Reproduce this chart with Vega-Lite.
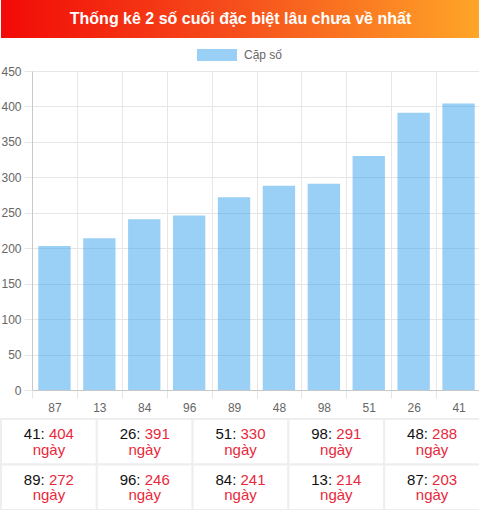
{
  "$schema": "https://vega.github.io/schema/vega-lite/v6.json",
  "padding": 0,
  "spacing": 5,
  "resolve": {"scale": {"color": "independent"}, "legend": {"color": "independent"}},
  "config": {
    "view": {"stroke": null},
    "font": "Liberation Sans"
  },
  "datasets": {
    "bars": [
      {"so": "87", "ngay": 203},
      {"so": "13", "ngay": 214},
      {"so": "84", "ngay": 241},
      {"so": "96", "ngay": 246},
      {"so": "89", "ngay": 272},
      {"so": "48", "ngay": 288},
      {"so": "98", "ngay": 291},
      {"so": "51", "ngay": 330},
      {"so": "26", "ngay": 391},
      {"so": "41", "ngay": 404}
    ],
    "table": [
      {"so": "41", "ngay": 404, "row": 1, "col": 1},
      {"so": "26", "ngay": 391, "row": 1, "col": 2},
      {"so": "51", "ngay": 330, "row": 1, "col": 3},
      {"so": "98", "ngay": 291, "row": 1, "col": 4},
      {"so": "48", "ngay": 288, "row": 1, "col": 5},
      {"so": "89", "ngay": 272, "row": 2, "col": 1},
      {"so": "96", "ngay": 246, "row": 2, "col": 2},
      {"so": "84", "ngay": 241, "row": 2, "col": 3},
      {"so": "13", "ngay": 214, "row": 2, "col": 4},
      {"so": "87", "ngay": 203, "row": 2, "col": 5}
    ]
  },
  "vconcat": [
    {
      "width": 479,
      "height": 38,
      "data": {"values": [{"t": "Thống kê 2 số cuối đặc biệt lâu chưa về nhất"}]},
      "layer": [
        {
          "mark": {
            "type": "rect",
            "fill": {
              "gradient": "linear",
              "x1": 0, "x2": 1, "y1": 0, "y2": 0,
              "stops": [
                {"offset": 0, "color": "#f20a06"},
                {"offset": 0.5, "color": "#f6501c"},
                {"offset": 1, "color": "#ffa627"}
              ]
            }
          },
          "encoding": {}
        },
        {
          "mark": {"type": "text", "color": "white", "fontWeight": "bold", "fontSize": 16, "baseline": "middle", "align": "center"},
          "encoding": {"text": {"field": "t"}}
        }
      ]
    },
    {
      "width": 479,
      "height": 319,
      "data": {"name": "bars"},
      "mark": {"type": "bar", "width": {"band": 0.72}, "opacity": 0.5},
      "encoding": {
        "x": {
          "field": "so",
          "type": "nominal",
          "sort": null,
          "scale": {"paddingInner": 0, "paddingOuter": 0, "range": [31, 480]},
          "axis": {
            "title": null,
            "labelAngle": 0,
            "tickBand": "extent",
            "grid": true,
            "gridColor": "#e6e6e6",
            "tickColor": "#e6e6e6",
            "tickSize": 8,
            "domainColor": "#c8c8c8",
            "labelColor": "#666666",
            "labelFontSize": 12,
            "labelPadding": 4
          }
        },
        "y": {
          "field": "ngay",
          "type": "quantitative",
          "scale": {"domain": [0, 450]},
          "axis": {
            "title": null,
            "offset": -31,
            "values": [0, 50, 100, 150, 200, 250, 300, 350, 400, 450],
            "grid": true,
            "gridColor": "#e6e6e6",
            "tickColor": "#e6e6e6",
            "tickSize": 8,
            "domainColor": "#c8c8c8",
            "labelColor": "#666666",
            "labelFontSize": 12,
            "labelPadding": 3
          }
        },
        "color": {
          "datum": "Cặp số",
          "scale": {"range": ["#36a2eb"]},
          "legend": {
            "title": null,
            "orient": "none",
            "legendX": 190,
            "legendY": -28,
            "padding": 6,
            "symbolType": "M-1,-1H5.667V1H-1Z",
            "symbolSize": 144,
            "symbolOpacity": 0.5,
            "symbolStrokeWidth": 0,
            "labelFontSize": 12,
            "labelColor": "#666666",
            "labelOffset": 35
          }
        }
      }
    },
    {
      "width": 479,
      "height": 91,
      "data": {"name": "table"},
      "encoding": {
        "x": {"field": "col", "type": "ordinal", "scale": {"paddingInner": 0, "paddingOuter": 0}, "axis": null},
        "y": {"field": "row", "type": "ordinal", "scale": {"paddingInner": 0, "paddingOuter": 0}, "axis": null}
      },
      "layer": [
        {
          "mark": {"type": "rect", "fill": "white", "stroke": "#eeeeee", "strokeWidth": 2}
        },
        {
          "mark": {"type": "text", "text": {"expr": "datum.so + ':'"}, "align": "right", "dx": -4.2, "baseline": "alphabetic", "fontSize": 15, "color": "#111111"},
          "encoding": {"y": {"field": "row", "type": "ordinal", "bandPosition": 0.44}}
        },
        {
          "mark": {"type": "text", "align": "left", "dx": 0, "baseline": "alphabetic", "fontSize": 15, "color": "#e8283c"},
          "encoding": {
            "y": {"field": "row", "type": "ordinal", "bandPosition": 0.44},
            "text": {"field": "ngay", "type": "quantitative"}
          }
        },
        {
          "mark": {"type": "text", "text": "ngày", "align": "center", "baseline": "alphabetic", "fontSize": 15, "color": "#e8283c"},
          "encoding": {"y": {"field": "row", "type": "ordinal", "bandPosition": 0.79}}
        }
      ]
    }
  ]
}
